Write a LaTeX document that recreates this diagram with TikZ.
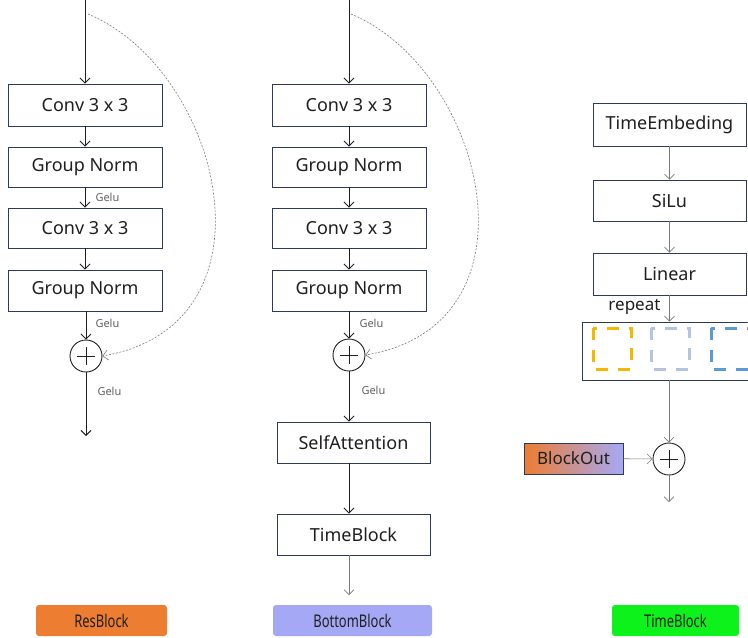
\documentclass[tikz,border=0pt]{standalone}
\usepackage{fontspec}
\setmainfont{Noto Sans}
\newfontfamily\tagfont[FakeStretch=0.74]{Noto Sans}
\usepackage{tikz}
\usetikzlibrary{arrows.meta}
\definecolor{rbNavy}{HTML}{2E3A59}
\definecolor{rbInk}{HTML}{1F1F1F}
\definecolor{rbGray}{HTML}{7A7A7A}
\definecolor{rbOrange}{HTML}{ED7D31}
\definecolor{rbLav}{HTML}{A5A9F5}
\definecolor{rbGreen}{HTML}{0CF21A}
\definecolor{repYellow}{HTML}{F5B800}
\definecolor{repSteel}{HTML}{B4C4DC}
\definecolor{repBlue}{HTML}{5B9BD5}

\begin{document}
\begin{tikzpicture}[x=1pt,y=-1pt,
  blk/.style={draw=rbNavy,line width=0.9pt,fill=white,minimum width=154pt,
    minimum height=42pt,inner sep=0pt,text=rbInk,font=\fontsize{18}{20}\selectfont},
  flow/.style={-{Straight Barb[length=5pt,width=10pt]},line width=0.9pt,rbInk},
  gflow/.style={-{Straight Barb[length=5pt,width=10pt]},line width=0.6pt,rbGray},
  skip/.style={-{Straight Barb[length=5pt,width=10pt]},dash pattern=on 2pt off 1.5pt,
    line width=0.6pt,rbGray},
  act/.style={anchor=west,text=rbGray!80!black,font=\fontsize{11}{12}\selectfont},
  addnode/.style={circle,draw=rbInk,line width=0.9pt,minimum size=32pt,inner sep=0pt,
    path picture={
      \draw[rbInk,line width=0.9pt]
        ([yshift=-7pt]path picture bounding box.north)
        -- ([yshift=7pt]path picture bounding box.south);
      \draw[rbInk,line width=0.9pt]
        ([xshift=7pt]path picture bounding box.west)
        -- ([xshift=-7pt]path picture bounding box.east);
    }},
  tag/.style={rounded corners=3pt,minimum height=31pt,inner sep=0pt,
    text=rbInk,font=\tagfont\fontsize{17.5}{19}\selectfont},
  repdash/.style={line width=3pt,dash pattern=on 12pt off 10pt}
]
  \useasboundingbox (0,0) rectangle (748,638);

  % ResBlock
  \coordinate (resIn) at (85,0);
  \coordinate (resSkip) at (88,14);
  \node[blk] (resConvA) at (85,105) {Conv 3 x 3};
  \node[blk,minimum height=40pt] (resNormA) at (85,167) {Group Norm};
  \node[blk,minimum height=40pt] (resConvB) at (85,228) {Conv 3 x 3};
  \node[blk,minimum height=41pt] (resNormB) at (85,290.5) {Group Norm};
  \node[addnode] (resAdd) at (86,356) {};
  \coordinate (resOut) at (86,436);
  \draw[flow] (resIn) -- (resConvA);
  \draw[flow] (resConvA) -- (resNormA);
  \draw[flow] (resNormA) -- (resConvB);
  \draw[flow] (resConvB) -- (resNormB);
  \draw[flow] (resNormB.south -| resAdd) -- (resAdd);
  \draw[flow] (resAdd) -- (resOut);
  \draw[skip] (resSkip) .. controls (222,70) and (284,325) .. (resAdd.east);
  \node[act] at (92,197) {Gelu};
  \node[act] at (92,323) {Gelu};
  \node[act] at (94,391) {Gelu};

  % BottomBlock
  \coordinate (botIn) at (349,0);
  \coordinate (botSkip) at (351,14);
  \node[blk] (botConvA) at (349,105) {Conv 3 x 3};
  \node[blk,minimum height=40pt] (botNormA) at (349,167) {Group Norm};
  \node[blk,minimum height=40pt] (botConvB) at (349,228) {Conv 3 x 3};
  \node[blk,minimum height=41pt] (botNormB) at (349,290.5) {Group Norm};
  \node[addnode] (botAdd) at (349,355) {};
  \node[blk,minimum width=153pt,minimum height=41pt] (botAttn) at (353.5,442.5) {SelfAttention};
  \node[blk,minimum width=153pt,minimum height=41pt] (botTime) at (353.5,534.5) {TimeBlock};
  \coordinate (botOut) at (349,595);
  \draw[flow] (botIn) -- (botConvA);
  \draw[flow] (botConvA) -- (botNormA);
  \draw[flow] (botNormA) -- (botConvB);
  \draw[flow] (botConvB) -- (botNormB);
  \draw[flow] (botNormB) -- (botAdd);
  \draw[flow] (botAdd) -- (botAdd |- botAttn.north);
  \draw[flow] (botAdd |- botAttn.south) -- (botAdd |- botTime.north);
  \draw[gflow] (botAdd |- botTime.south) -- (botOut);
  \draw[skip] (botSkip) .. controls (485,70) and (547,325) .. (botAdd.east);
  \node[act] at (356,323) {Gelu};
  \node[act] at (358,390) {Gelu};

  % TimeBlock
  \node[blk,minimum width=153pt,minimum height=43pt] (timeEmb) at (669.5,124.5) {TimeEmbeding};
  \node[blk,minimum width=153pt,minimum height=41pt] (timeAct) at (669.5,200.5) {SiLu};
  \node[blk,minimum width=153pt,minimum height=42pt] (timeLin) at (669.5,274) {Linear};
  \node[blk,minimum width=180pt,minimum height=58pt] (timeRep) at (672,351) {};
  \foreach \cx/\col in {612/repYellow,670/repSteel,730/repBlue}
    \draw[repdash,draw=\col] (\cx-19,328) rectangle (\cx+19,369);
  \node[addnode] (timeAdd) at (669,459) {};
  \node[draw=rbNavy,line width=0.9pt,left color=rbOrange,right color=rbLav,
    minimum width=99pt,minimum height=31pt,inner sep=0pt,text=rbInk,
    font=\fontsize{17}{19}\selectfont] (blockOut) at (573.5,458.5) {BlockOut};
  \coordinate (timeOut) at (669,502);
  \draw[gflow] (timeEmb) -- (timeAct);
  \draw[gflow] (timeAct) -- (timeLin);
  \draw[gflow] (timeLin.south) -- (timeLin.south |- timeRep.north);
  \draw[gflow] (timeAdd |- timeRep.south) -- (timeAdd);
  \draw[gflow] (blockOut) -- (timeAdd);
  \draw[gflow] (timeAdd) -- (timeOut);
  \node[anchor=east,text=rbInk,font=\fontsize{17}{19}\selectfont] at (664,307) {repeat};

  % legend tags
  \node[tag,fill=rbOrange,minimum width=131pt] (tagRes) at (101.5,620.5) {ResBlock};
  \node[tag,fill=rbLav,minimum width=159pt] (tagBot) at (352.5,620.5) {BottomBlock};
  \node[tag,fill=rbGreen,minimum width=127pt] (tagTime) at (675.5,620.5) {TimeBlock};
\end{tikzpicture}
\end{document}
